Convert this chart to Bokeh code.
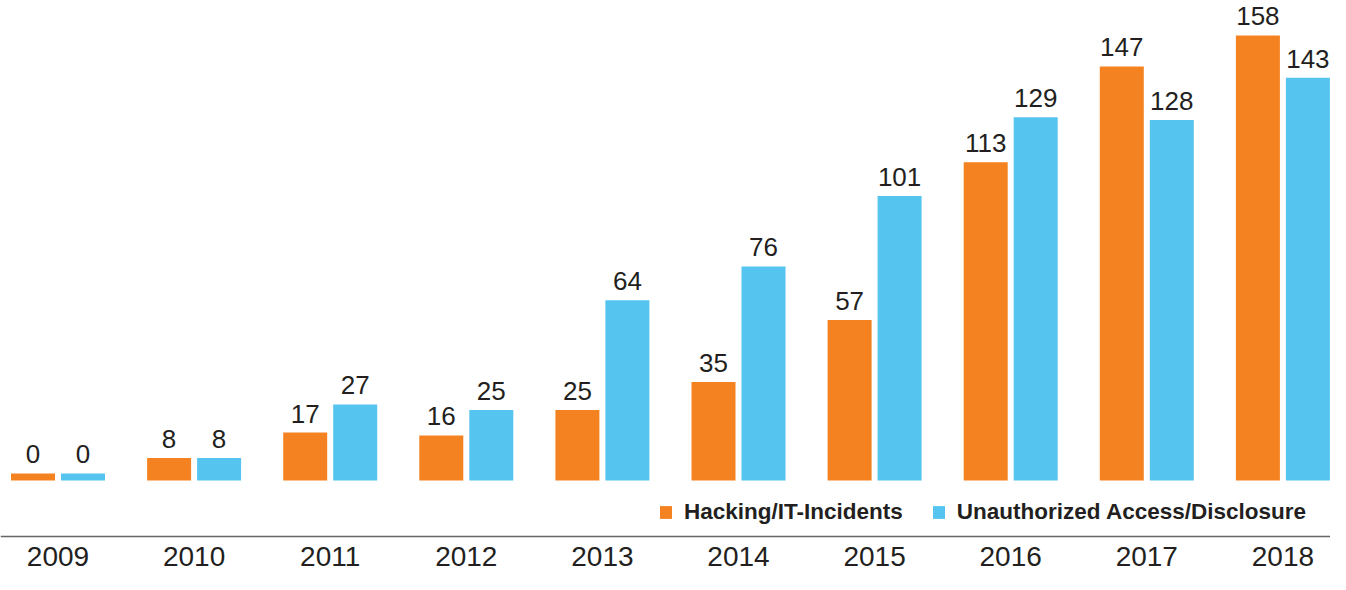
import numpy as np
from bokeh.plotting import figure
from bokeh.models import ColumnDataSource, Range1d, LabelSet, Legend, LegendItem, Span
from bokeh.core.properties import value
from bokeh.embed import file_html
from bokeh.resources import INLINE

# ---- data ----
years = ["2009", "2010", "2011", "2012", "2013", "2014", "2015", "2016", "2017", "2018"]
hacking = [0, 8, 17, 16, 25, 35, 57, 113, 147, 158]
unauthorized = [0, 8, 27, 25, 64, 76, 101, 129, 128, 143]
series_names = ["Hacking/IT-Incidents", "Unauthorized Access/Disclosure"]

ORANGE = "#F58220"
BLUE = "#55C5F0"
TEXT = "#231F20"
FONT = "Liberation Sans"

W, H = 1330, 574
PX_PER_UNIT = 2.8165      # vertical scale (px per incident)
BASE_PX = 480             # screen y of the zero line
GROUP_PX = 136.1          # px between year groups
FIRST_PX = 57.5           # screen x of first group centre
RULE_PX = 536             # screen y of the baseline rule
YEAR_BASELINE_PX = 565    # screen y of the year labels' baseline

MIN_BAR = 2.5   # minimum drawn height so zero values are still visible
OFFSET = 25 / GROUP_PX
BAR_W = 44 / GROUP_PX

idx = np.arange(len(years))


def px_to_y(py):
    return (BASE_PX - py) / PX_PER_UNIT


def make_source(vals, shift):
    vals = np.array(vals, dtype=float)
    top = np.maximum(vals, MIN_BAR)
    return ColumnDataSource(dict(
        x=idx + shift,
        top=top,
        label=[str(int(v)) for v in vals],
    ))


src_h = make_source(hacking, -OFFSET)
src_u = make_source(unauthorized, OFFSET)
src_years = ColumnDataSource(dict(x=idx, y=np.zeros(len(years)), label=years))

p = figure(
    width=W, height=H,
    output_backend="svg", toolbar_location=None,
    x_range=Range1d(-FIRST_PX / GROUP_PX, (W - FIRST_PX) / GROUP_PX),
    y_range=Range1d(px_to_y(H), px_to_y(0)),
    x_axis_location=None, y_axis_location=None,
    min_border_left=0, min_border_right=0, min_border_top=0, min_border_bottom=0,
)
p.outline_line_color = None
p.xgrid.visible = False
p.ygrid.visible = False
p.background_fill_color = "white"
p.border_fill_color = "white"

r1 = p.vbar(x="x", top="top", bottom=0, width=BAR_W, source=src_h,
            fill_color=ORANGE, line_color=None)
r2 = p.vbar(x="x", top="top", bottom=0, width=BAR_W, source=src_u,
            fill_color=BLUE, line_color=None)

for src in (src_h, src_u):
    p.add_layout(LabelSet(x="x", y="top", text="label", source=src,
                          y_offset=10, text_align="center", text_baseline="alphabetic",
                          text_font=value(FONT), text_font_size="26px", text_color=TEXT))

# baseline rule under the chart, with the year labels under it
p.add_layout(Span(location=px_to_y(RULE_PX), dimension="width",
                  line_color="#666666", line_width=1.5))
p.add_layout(LabelSet(x="x", y="y", text="label", source=src_years,
                      y_offset=-(YEAR_BASELINE_PX - BASE_PX), text_align="center",
                      text_baseline="alphabetic",
                      text_font=value(FONT), text_font_size="28px", text_color=TEXT))

legend = Legend(
    items=[LegendItem(label=series_names[0], renderers=[r1]),
           LegendItem(label=series_names[1], renderers=[r2])],
    orientation="horizontal",
    location=(658, 49),
    glyph_width=15, glyph_height=16,
    label_standoff=11, spacing=28,
    padding=0, margin=0,
    border_line_alpha=0, background_fill_alpha=0,
    label_text_font=FONT, label_text_font_size="22.5px",
    label_text_font_style="bold", label_text_color=TEXT,
)
p.add_layout(legend)

open("out.html", "w").write(file_html(p, INLINE))
